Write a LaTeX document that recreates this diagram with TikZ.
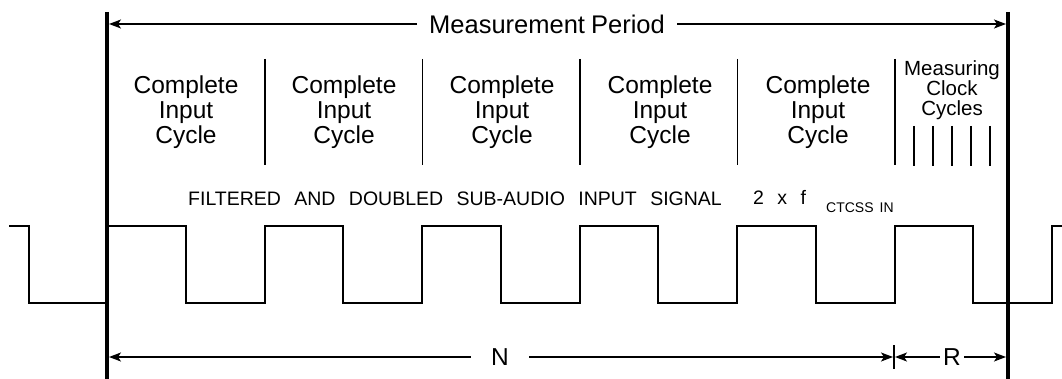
\documentclass[tikz,border=0pt]{standalone}
\usepackage{fontspec}
\setmainfont{Liberation Sans}
\usetikzlibrary{positioning,arrows.meta}

\tikzset{
	bar/.style={line width=4pt},
	sepline/.style={line width=1.8pt},
	wave/.style={line width=2pt, line join=miter},
	dimline/.style={line width=1.5pt, -{Stealth[length=12pt,width=9pt,inset=3pt]}},
	bigtext/.style={font=\fontsize{24.5}{25}\selectfont, inner ysep=0pt},
	cyclabel/.style={align=center, font=\fontsize{24.5}{25}\selectfont, inner sep=0pt},
	sigtext/.style={font=\fontsize{19.5}{20}\selectfont, inner sep=0pt, anchor=base west}
}
\newcommand{\wgap}{\hspace{13.4pt}}

\begin{document}
\begin{tikzpicture}[x=1pt,y=-1pt]
	\useasboundingbox (0,0) rectangle (1062,379);
	% bounds of the measurement period
	\coordinate (ltop) at (107,12);
	\coordinate (lbot) at (107,379);
	\coordinate (rtop) at (1008,12);
	\coordinate (rbot) at (1008,379);
	\draw[bar] (ltop) -- (lbot);
	\draw[bar] (rtop) -- (rbot);

	% top dimension
	\node[bigtext, font=\fontsize{25.5}{26}\selectfont, inner xsep=12pt] (mp) at (547,24) {Measurement\hspace{6pt}Period};
	\coordinate (mpl) at (109,24);
	\coordinate (mpr) at (1006,24);
	\draw[dimline] (mp.west) -- (mpl);
	\draw[dimline] (mp.east) -- (mpr);

	% input cycles
	\foreach \i in {0,...,4} {
		\node[cyclabel] (cyc\i) at (186+158*\i,112) {Complete\\Input\\Cycle};
		\coordinate (sa\i) at (265+157.5*\i,59);
		\coordinate (sb\i) at (265+157.5*\i,165);
		\draw[sepline] (sa\i) -- (sb\i);
	}
	\node[cyclabel, font=\fontsize{20.5}{20}\selectfont] (clk) at (952,90) {Measuring\\Clock\\Cycles};
	\foreach \x in {914,933,952,971,990}
		\draw[sepline] (\x,126) -- (\x,166);

	% signal
	\node[sigtext] (sig) at (188,206) {FILTERED\wgap AND\wgap DOUBLED\wgap SUB-AUDIO\wgap INPUT\wgap SIGNAL};
	\node[sigtext] (fx) at (753,205) {2\wgap x\wgap f};
	\node[sigtext, font=\fontsize{14}{14}\selectfont] (ctcss) at (826,213) {CTCSS\hspace{6pt}IN};
	\draw[wave] (9,226) -- (29,226) -- (29,303) -- (107,303)
		\foreach \i in {1,...,6} { -- ++(0,-77) -- ++(78.75,0) -- ++(0,77) -- ++(78.75,0) }
		-- ++(0,-77) -- (1062,226);

	% bottom dimensions
	\coordinate (nl) at (109,357);
	\coordinate (nr) at (893,357);
	\coordinate (rl) at (895,357);
	\coordinate (rr) at (1006,357);
	\coordinate (tka) at (894,345);
	\coordinate (tkb) at (894,369);
	\node[bigtext, inner xsep=20pt] (n) at (500,357) {N};
	\node[bigtext, inner xsep=3pt] (r) at (952,357) {R};
	\draw[line width=1.5pt] (tka) -- (tkb);
	\draw[dimline] (n.west) -- (nl);
	\draw[dimline] (n.east) -- (nr);
	\draw[dimline] (r.west) -- (rl);
	\draw[dimline] (r.east) -- (rr);
\end{tikzpicture}
\end{document}
